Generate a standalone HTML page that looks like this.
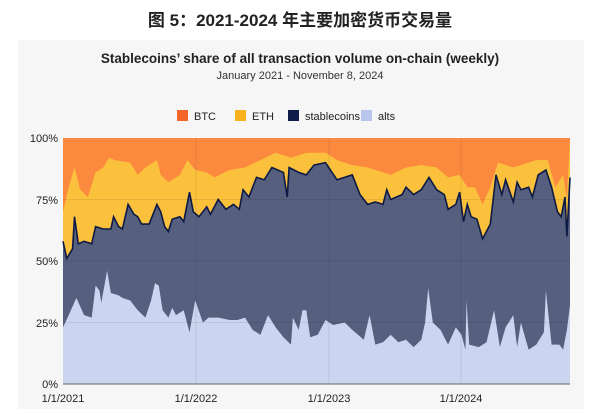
<!DOCTYPE html>
<html><head><meta charset="utf-8"><style>
body{margin:0;width:600px;height:409px;background:#fff;font-family:"Liberation Sans","Noto Sans CJK SC",sans-serif;overflow:hidden}
</style></head><body>
<svg id="s" width="600" height="409" xmlns="http://www.w3.org/2000/svg" font-family="Liberation Sans, Noto Sans CJK SC, sans-serif">
<text x="300" y="26" text-anchor="middle" font-size="17" font-weight="bold" fill="#222">图 5：2021-2024 年主要加密货币交易量</text>
<rect x="18" y="40" width="566" height="369" fill="#f6f6f6"/>
<text x="300" y="63" text-anchor="middle" font-size="13.5" font-weight="bold" fill="#222">Stablecoins’ share of all transaction volume on-chain (weekly)</text>
<text x="300" y="79" text-anchor="middle" font-size="11" fill="#333">January 2021 - November 8, 2024</text>
<rect x="177" y="110" width="11" height="11" fill="#f5662a"/><text x="194" y="120" font-size="11" fill="#222">BTC</text>
<rect x="235" y="110" width="11" height="11" fill="#f9b21b"/><text x="252" y="120" font-size="11" fill="#222">ETH</text>
<rect x="288" y="110" width="11" height="11" fill="#0f1c4a"/><text x="305" y="120" font-size="11" fill="#222">stablecoins</text>
<rect x="361" y="110" width="11" height="11" fill="#b8c6ee"/><text x="378" y="120" font-size="11" fill="#222">alts</text>
<rect x="63" y="138" width="507" height="246" fill="#fb8a3e"/>
<g id="g"></g>
<g font-size="11" fill="#222" text-anchor="end">
<text x="58" y="142">100%</text><text x="58" y="204">75%</text><text x="58" y="265">50%</text><text x="58" y="327">25%</text><text x="58" y="388">0%</text>
</g>
<g font-size="11" fill="#222" text-anchor="middle">
<text x="63" y="402">1/1/2021</text><text x="196" y="402">1/1/2022</text><text x="329" y="402">1/1/2023</text><text x="461" y="402">1/1/2024</text>
</g>
</svg>
<script>
var eth=[165,70,180,80,195,88,210,79,230,76,250,86,270,88,285,92,300,91,340,90,360,85,380,88,410,91,420,85,440,82,470,85,490,91,510,87,540,86,560,84,600,87,640,88,680,91,720,94,760,92,800,94,850,94,880,91,920,89,960,88,1000,86,1020,85,1060,88,1100,89,1140,88,1170,84,1200,85,1220,80,1240,80,1260,73,1280,80,1300,90,1340,88,1360,89,1400,91,1430,91,1450,80,1470,85,1480,75,1488,100];
var st=[165,58,175,51,190,55,195,68,205,57,220,58,240,57,250,64,270,63,290,63,297,68,310,64,320,63,335,73,350,69,360,68,370,65,390,65,410,73,420,70,430,64,440,62,450,67,470,68,480,66,495,78,505,70,520,68,540,72,550,69,570,75,590,71,610,73,625,71,635,79,650,76,670,84,690,83,710,88,740,86,750,76,755,88,780,86,800,85,820,89,850,90,880,83,920,85,940,77,960,73,980,74,1000,73,1010,79,1020,75,1050,77,1060,80,1080,77,1100,79,1120,84,1140,79,1160,77,1170,71,1190,73,1200,78,1210,66,1220,73,1230,68,1245,67,1260,59,1280,65,1295,85,1310,77,1320,83,1340,74,1350,82,1360,79,1380,80,1390,76,1405,85,1425,87,1440,80,1455,70,1465,68,1475,76,1480,60,1488,84];
var al=[165,23,180,28,200,35,220,28,240,27,250,40,260,38,265,33,280,46,290,37,310,36,320,35,340,34,360,30,380,27,395,34,405,41,415,40,425,30,440,27,450,31,460,28,480,30,495,21,510,34,530,25,545,27,570,27,600,26,620,26,640,27,660,22,680,20,700,28,720,23,740,19,760,16,765,27,780,22,790,30,800,30,810,19,830,20,850,26,870,24,900,25,920,22,950,18,965,28,980,16,1000,17,1020,20,1040,17,1060,18,1080,15,1100,18,1110,25,1118,39,1130,25,1150,22,1170,16,1190,23,1205,20,1215,14,1218,34,1225,16,1250,15,1270,17,1290,30,1305,15,1320,23,1340,28,1350,15,1360,25,1380,14,1400,16,1420,21,1425,38,1440,16,1460,16,1470,14,1480,22,1488,32];
function pts(a){var s=[];for(var i=0;i<a.length;i+=2){var x=63+(a[i]-165)*507/1323,y=384-a[i+1]*2.46;s.push(x.toFixed(1)+","+y.toFixed(1));}return s;}
function area(a,f){return '<path d="M63,384 L'+pts(a).join(" L")+' L570,384Z" fill="'+f+'"/>';}
var h=area(eth,"#fbc13c")+area(st,"#565f7e")+'<polyline points="'+pts(st).join(" ")+'" fill="none" stroke="#0c1a45" stroke-width="1.6"/>'+area(al,"#cbd5f0");
[196,329,461].forEach(function(x){h+='<line x1="'+x+'" y1="138" x2="'+x+'" y2="384" stroke="#000" stroke-opacity="0.08"/>';});
[199.5,261,322.5].forEach(function(y){h+='<line x1="63" y1="'+y+'" x2="570" y2="'+y+'" stroke="#000" stroke-opacity="0.08"/>';});
h+='<line x1="63" y1="384" x2="570" y2="384" stroke="#666"/>';
document.getElementById("g").innerHTML=h;
</script>
</body></html>
